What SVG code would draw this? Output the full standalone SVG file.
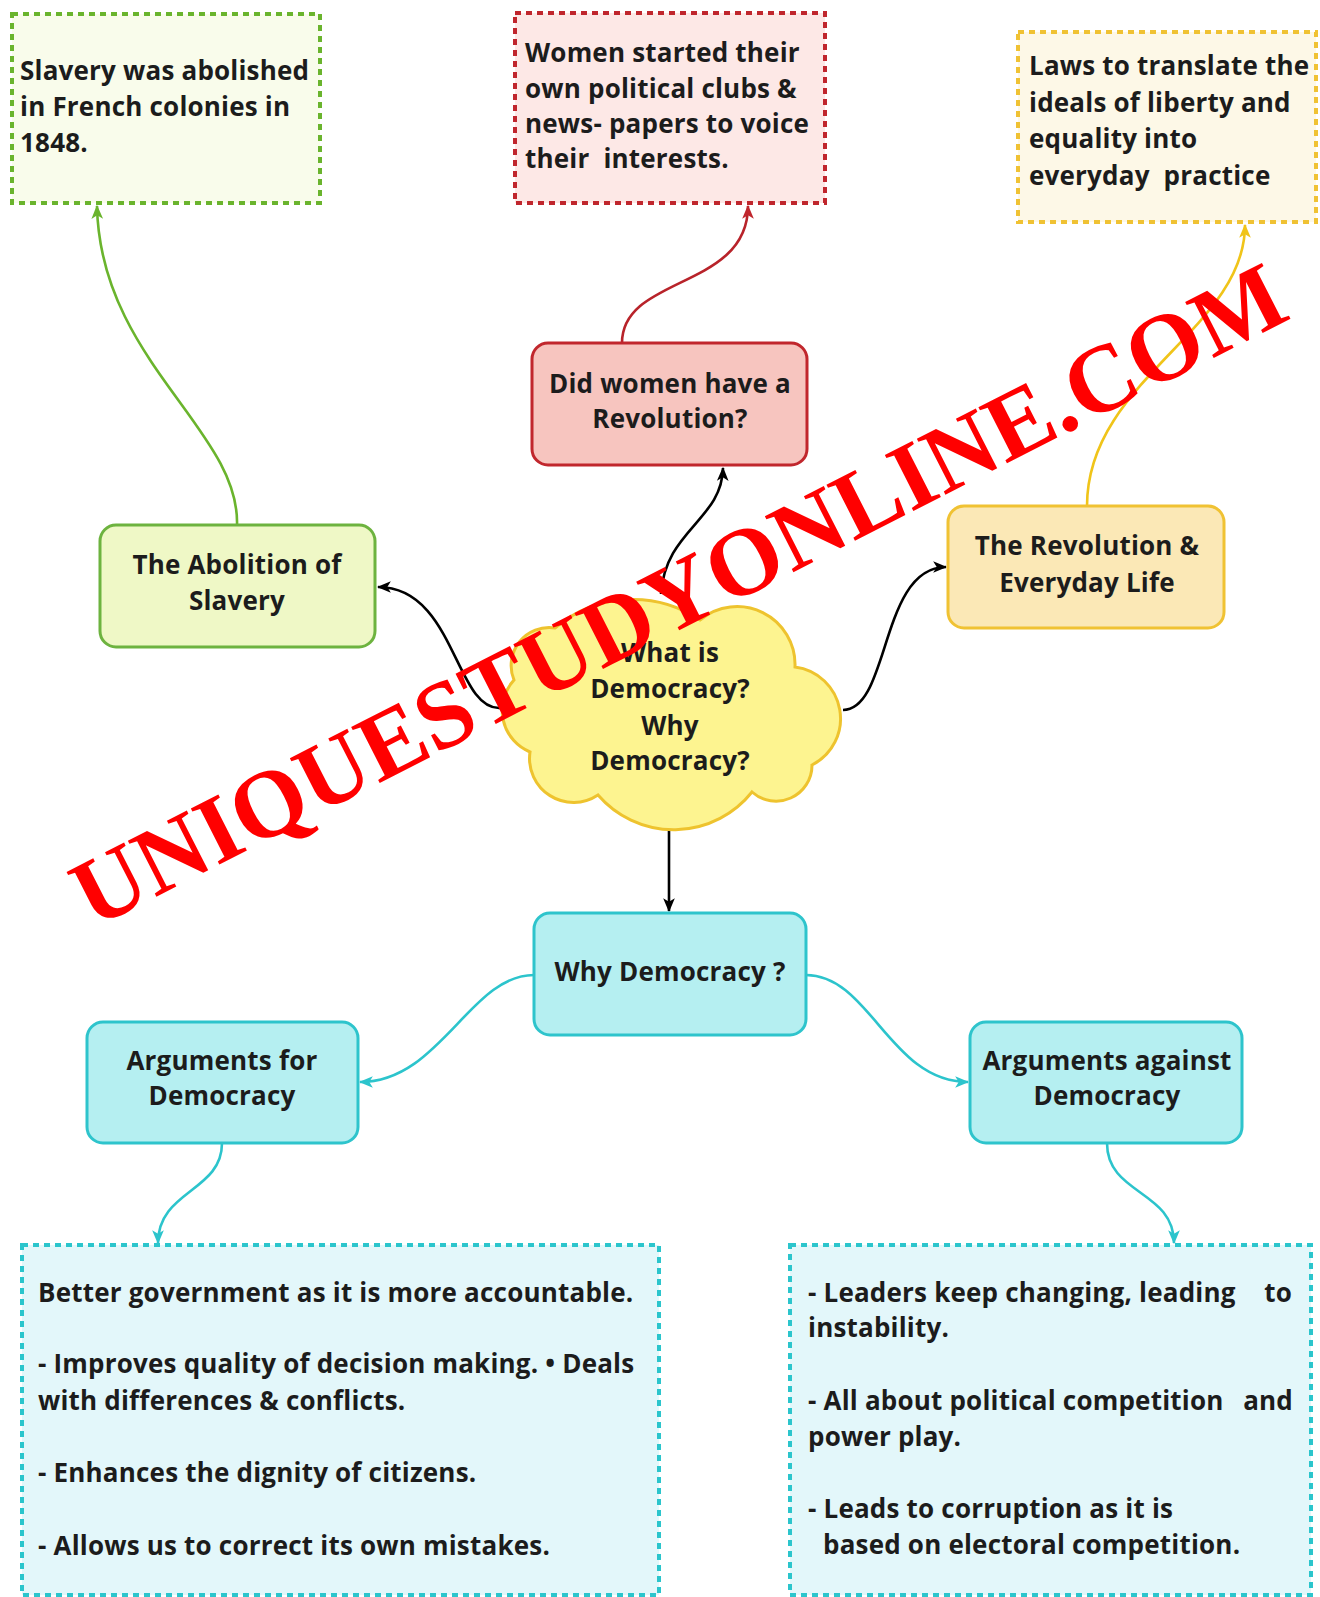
<svg xmlns="http://www.w3.org/2000/svg" width="1320" height="1597" viewBox="0 0 1320 1597">
<style>
text{font-family:"Open Sans","Liberation Sans",sans-serif;font-weight:700;font-size:26px;letter-spacing:0.2px;fill:#1c1c1c}
.c{text-anchor:middle}
.e{text-anchor:end}
.pre{white-space:pre}
.node{stroke-width:3}
.dot{stroke-width:4;stroke-dasharray:6 5}
.con{fill:none;stroke-width:2.6}
.wm{font-family:"Liberation Serif","Times New Roman",serif;font-weight:700;font-size:96px;letter-spacing:0;fill:#ff0000}
</style>
<defs>
<marker id="aG" markerUnits="userSpaceOnUse" markerWidth="14" markerHeight="14" viewBox="0 0 12 12" refX="11" refY="6" orient="auto"><path d="M0,1 L12,6 L0,11 L3,6 Z" fill="#6ab42d"/></marker>
<marker id="aR" markerUnits="userSpaceOnUse" markerWidth="14" markerHeight="14" viewBox="0 0 12 12" refX="11" refY="6" orient="auto"><path d="M0,1 L12,6 L0,11 L3,6 Z" fill="#c0262d"/></marker>
<marker id="aY" markerUnits="userSpaceOnUse" markerWidth="14" markerHeight="14" viewBox="0 0 12 12" refX="11" refY="6" orient="auto"><path d="M0,1 L12,6 L0,11 L3,6 Z" fill="#f0c419"/></marker>
<marker id="aK" markerUnits="userSpaceOnUse" markerWidth="14" markerHeight="14" viewBox="0 0 12 12" refX="11" refY="6" orient="auto"><path d="M0,1 L12,6 L0,11 L3,6 Z" fill="#000"/></marker>
<marker id="aC" markerUnits="userSpaceOnUse" markerWidth="14" markerHeight="14" viewBox="0 0 12 12" refX="11" refY="6" orient="auto"><path d="M0,1 L12,6 L0,11 L3,6 Z" fill="#2cc4cc"/></marker>
</defs>
<rect width="1320" height="1597" fill="#fff"/>

<g id="connectors">
<path class="con" stroke="#6ab42d" marker-end="url(#aG)" d="M237,525 C240,430 100,360 97,206"/>
<path class="con" stroke="#b8232a" marker-end="url(#aR)" d="M622,343 C622,275 748,290 748,206"/>
<path class="con" stroke="#f0c419" marker-end="url(#aY)" d="M1087,506 C1087,380 1245,330 1245,225"/>
<path class="con" stroke="#000" marker-end="url(#aK)" d="M661,594 C665,530 722,520 723,468"/>
<path class="con" stroke="#000" marker-end="url(#aK)" d="M500,708 C455,710 455,587 378,587"/>
<path class="con" stroke="#000" marker-end="url(#aK)" d="M843,710 C890,710 880,567 946,567"/>
<path class="con" stroke="#000" marker-end="url(#aK)" d="M669,830 L669,911"/>
<path class="con" stroke="#2cc4cc" marker-end="url(#aC)" d="M534,975 C470,975 440,1082 360,1082"/>
<path class="con" stroke="#2cc4cc" marker-end="url(#aC)" d="M806,975 C870,975 890,1082 968,1082"/>
<path class="con" stroke="#2cc4cc" marker-end="url(#aC)" d="M222,1143 C222,1192 158,1190 158,1243"/>
<path class="con" stroke="#2cc4cc" marker-end="url(#aC)" d="M1107,1143 C1107,1195 1174,1190 1174,1243"/>
</g>

<g id="note-slavery">
<rect class="dot" x="12" y="14" width="308" height="189" fill="#f9fceb" stroke="#6ab42d"/>
<text x="20" y="80">Slavery was abolished</text>
<text x="20" y="116">in French colonies in</text>
<text x="20" y="152">1848.</text>
</g>

<g id="note-women">
<rect class="dot" x="515" y="13" width="310" height="190" fill="#fde8e6" stroke="#c0262d"/>
<text x="525" y="62">Women started their</text>
<text x="525" y="98">own political clubs &amp;</text>
<text x="525" y="133">news- papers to voice</text>
<text class="pre" x="525" y="168">their  interests.</text>
</g>

<g id="note-laws">
<rect class="dot" x="1018" y="32" width="298" height="190" fill="#fdf8e7" stroke="#f0c233"/>
<text x="1029" y="75">Laws to translate the</text>
<text x="1029" y="112">ideals of liberty and</text>
<text x="1029" y="148">equality into</text>
<text class="pre" x="1029" y="185">everyday  practice</text>
</g>

<g id="node-abolition">
<rect class="node" x="100" y="525" width="275" height="122" rx="16" fill="#eff8c6" stroke="#6db33f"/>
<text class="c" x="237" y="574">The Abolition of</text>
<text class="c" x="237" y="610">Slavery</text>
</g>

<g id="node-women">
<rect class="node" x="532" y="343" width="275" height="122" rx="16" fill="#f7c5bf" stroke="#c1272d"/>
<text class="c" x="670" y="393">Did women have a</text>
<text class="c" x="670" y="428">Revolution?</text>
</g>

<g id="node-revolution">
<rect class="node" x="948" y="506" width="276" height="122" rx="16" fill="#fbe8b6" stroke="#f0c233"/>
<text class="c" x="1087" y="555">The Revolution &amp;</text>
<text class="c" x="1087" y="592">Everyday Life</text>
</g>

<g id="node-center">
<path class="node" fill="#fdf490" stroke="#eec32e" d="M514,680 A38,38 0 0 1 555,628 A120,120 0 0 1 700,620 A58,58 0 0 1 795,667 A52,52 0 0 1 812,765 A36,36 0 0 1 752,792 A100,100 0 0 1 598,795 A44,44 0 0 1 530,752 A45,45 0 0 1 514,680 Z"/>
<text class="c" x="670" y="662">What is</text>
<text class="c" x="670" y="698">Democracy?</text>
<text class="c" x="670" y="735">Why</text>
<text class="c" x="670" y="770">Democracy?</text>
</g>

<g id="node-why">
<rect class="node" x="534" y="913" width="272" height="122" rx="16" fill="#b5eff1" stroke="#2ec4cc"/>
<text class="c" x="670" y="981">Why Democracy ?</text>
</g>

<g id="node-for">
<rect class="node" x="87" y="1022" width="271" height="121" rx="16" fill="#b5eff1" stroke="#2ec4cc"/>
<text class="c" x="222" y="1070">Arguments for</text>
<text class="c" x="222" y="1105">Democracy</text>
</g>

<g id="node-against">
<rect class="node" x="970" y="1022" width="272" height="121" rx="16" fill="#b5eff1" stroke="#2ec4cc"/>
<text class="c" x="1107" y="1070">Arguments against</text>
<text class="c" x="1107" y="1105">Democracy</text>
</g>

<g id="note-for">
<rect class="dot" x="22" y="1245" width="637" height="350" fill="#e3f7fa" stroke="#2bc5cc"/>
<text x="38" y="1302">Better government as it is more accountable.</text>
<text x="38" y="1373">- Improves quality of decision making. • Deals</text>
<text x="38" y="1410">with differences &amp; conflicts.</text>
<text x="38" y="1482">- Enhances the dignity of citizens.</text>
<text x="38" y="1555">- Allows us to correct its own mistakes.</text>
</g>

<g id="note-against">
<rect class="dot" x="790" y="1245" width="521" height="350" fill="#e3f7fa" stroke="#2bc5cc"/>
<text x="808" y="1302">- Leaders keep changing, leading</text>
<text class="e" x="1292" y="1302">to</text>
<text x="808" y="1337">instability.</text>
<text x="808" y="1410">- All about political competition</text>
<text class="e" x="1293" y="1410">and</text>
<text x="808" y="1446">power play.</text>
<text x="808" y="1518">- Leads to corruption as it is</text>
<text x="823" y="1554">based on electoral competition.</text>
</g>

<g id="watermark">
<text class="wm" transform="translate(93,929) rotate(-27)">UNIQUESTUDYONLINE.COM</text>
</g>
</svg>
